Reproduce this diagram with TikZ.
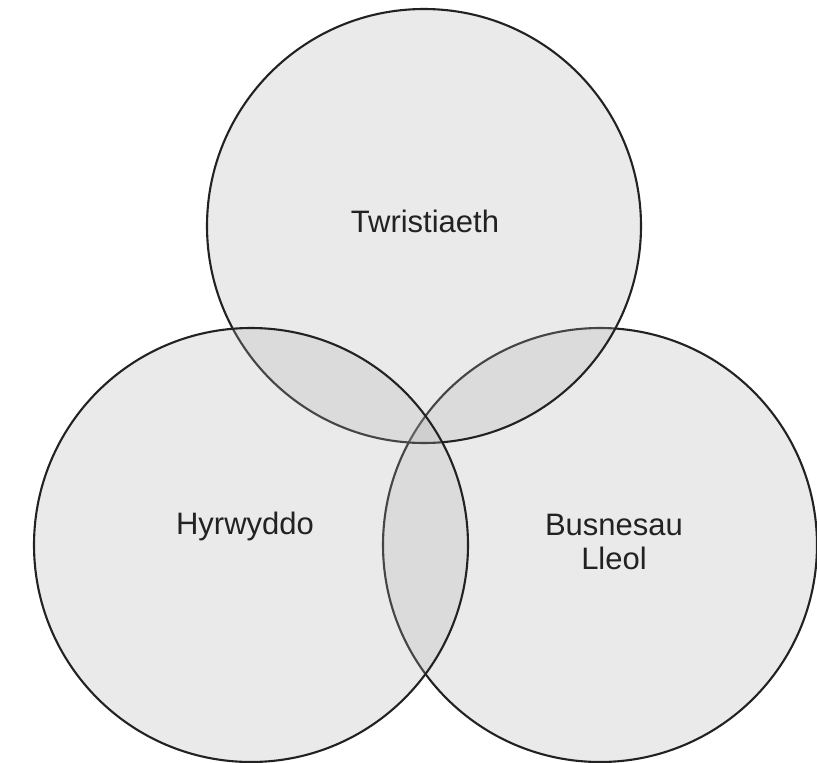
\documentclass[tikz,border=0pt]{standalone}
\usepackage{fontspec}
\setmainfont{Liberation Sans}
\definecolor{ringfill}{RGB}{175,175,175}
\definecolor{ringline}{RGB}{34,34,34}
\begin{document}
\begin{tikzpicture}[x=1pt,y=-1pt,
  ring/.style={circle,minimum size=434pt,inner sep=0pt,draw=ringline,line width=2.1pt,fill=ringfill,fill opacity=0.25,draw opacity=1},
  lbl/.style={font=\fontsize{31}{33.5}\selectfont,text=ringline,align=center}]
\useasboundingbox (0,0) rectangle (817,763);
\fill[white] (0,0) rectangle (817,763);
\node[ring] (right) at (600,545) {};
\node[ring] (top) at (424,226) {};
\node[ring] (left) at (251,545) {};
\node[lbl] (tw) at (425,221) {Twristiaeth};
\node[lbl] (hy) at (245,526) {Hyrwyddo};
\node[lbl] (bu) at (614,542) {Busnesau\\Lleol};
\end{tikzpicture}
\end{document}
